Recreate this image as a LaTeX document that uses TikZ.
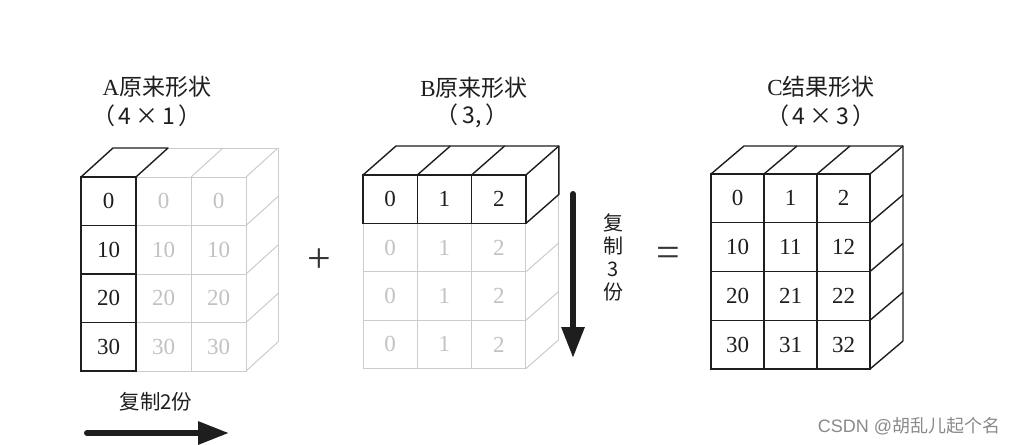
\documentclass[tikz,border=0pt]{standalone}
\usepackage{fontspec}
\setmainfont{Liberation Serif}
\newfontfamily\cjk{Noto Sans CJK SC}
\newfontfamily\wmfont{Liberation Sans}
\usetikzlibrary{arrows.meta}
\definecolor{lline}{HTML}{CCCCCC}
\definecolor{ltext}{HTML}{C2C2C2}
\definecolor{dline}{HTML}{1E1E1E}
\definecolor{wmgray}{HTML}{8A8A8A}
\begin{document}
\begin{tikzpicture}[x=1pt,y=-1pt,
  cellbase/.style={inner sep=0pt, outer sep=0pt, anchor=north west, font=\fontsize{23}{23}\selectfont},
  dcell/.style={cellbase, draw=dline, line width=1.4pt, text=dline},
  lcell/.style={cellbase, draw=lline, line width=1pt, text=ltext},
  dedge/.style={draw=dline, line width=1.4pt, line join=round},
  ledge/.style={draw=lline, line width=1pt, line join=round},
  lab/.style={font=\fontsize{23}{23}\selectfont, text=dline, inner sep=0pt},
  opsign/.style={font=\fontsize{42}{42}\selectfont, text=dline!90, inner sep=0pt},
  bigarrow/.style={draw=dline, line width=6pt, line cap=round, -{Triangle[length=31pt,width=22pt]}},
]
\useasboundingbox[fill=white] (0,0) rectangle (1016,444);

% ---------- A block ----------
\tikzset{aw/.style={minimum width=55pt, minimum height=48.5pt}}
\foreach \r in {0,...,3}{
  \foreach \c in {1,2}{
    \pgfmathtruncatemacro{\v}{10*\r}
    \node[lcell, aw] (A-\r-\c) at ({81+55*\c},{177+48.5*\r}) {\v};
  }
}
\draw[ledge] (A-0-1.north west) ++(32,-29) -- ++(110,0) -- ++(0,194);
\foreach \c in {1,2}{\draw[ledge] (A-0-\c.north east) -- ++(32,-29);}
\foreach \r in {0,...,3}{\draw[ledge] (A-\r-2.south east) -- ++(32,-29);}
\foreach \r in {0,...,3}{
  \pgfmathtruncatemacro{\v}{10*\r}
  \node[dcell, aw] (A-\r-0) at (81,{177+48.5*\r}) {\v};
}
\draw[dedge] (A-0-0.north west) -- ++(32,-29) -- ++(55,0) -- (A-0-0.north east);

% ---------- B block ----------
\tikzset{bw/.style={minimum width=54.3pt, minimum height=48.4pt}}
\foreach \r in {1,...,3}{
  \foreach \c in {0,1,2}{
    \node[lcell, bw] (B-\r-\c) at ({363+54.3*\c},{175+48.4*\r}) {\c};
  }
}
\draw[ledge] (B-1-2.north east) ++(33,-29) -- ++(0,145.2);
\foreach \r in {1,...,3}{\draw[ledge] (B-\r-2.south east) -- ++(33,-29);}
\foreach \c in {0,1,2}{
  \node[dcell, bw] (B-0-\c) at ({363+54.3*\c},175) {\c};
}
\draw[dedge] (B-0-0.north west) -- ++(33,-29) -- ++(162.9,0) -- ++(0,48.4) -- (B-0-2.south east);
\foreach \c in {0,1,2}{\draw[dedge] (B-0-\c.north east) -- ++(33,-29);}

% ---------- C block ----------
\tikzset{cw/.style={minimum width=53pt, minimum height=48.75pt}}
\foreach \r in {0,...,3}{
  \foreach \c in {0,1,2}{
    \pgfmathtruncatemacro{\v}{10*\r+\c}
    \node[dcell, cw] (C-\r-\c) at ({711+53*\c},{174+48.75*\r}) {\v};
  }
}
\draw[dedge] (C-0-0.north west) -- ++(33,-28) -- ++(159,0) -- ++(0,195);
\foreach \c in {0,1,2}{\draw[dedge] (C-0-\c.north east) -- ++(33,-28);}
\foreach \r in {0,...,3}{\draw[dedge] (C-\r-2.south east) -- ++(33,-28);}

% ---------- labels ----------
\node[lab] (labA) at (157,87) {A\cjk{原来形状}};
\node[lab] (shpA) at (147,116) {\cjk{（}\,4\,×\,1\,\cjk{）}};
\node[lab] (labB) at (474,88) {B\cjk{原来形状}};
\node[lab] (shpB) at (472,116) {\cjk{（}\,3,\,\cjk{）}};
\node[lab] (labC) at (821,87) {C\cjk{结果形状}};
\node[lab] (shpC) at (821,116) {\cjk{（}\,4\,×\,3\,\cjk{）}};

\node[opsign] (plus) at (319,261) {+};
\node[opsign] (eq) at (668,257) {=};

% ---------- arrows ----------
\coordinate (v1) at (573,194);
\coordinate (v2) at (573,358);
\draw[bigarrow] (v1) -- (v2);
\node[lab, font=\fontsize{20}{23}\selectfont\cjk, align=center] (vtext) at (613,257) {复\\制\\3\\份};

\coordinate (h1) at (87,433);
\coordinate (h2) at (229,433);
\draw[bigarrow] (h1) -- (h2);
\node[lab, font=\fontsize{20.5}{20.5}\selectfont\cjk] (htext) at (156,402) {复制2份};

% ---------- watermark ----------
\node[inner sep=0pt, text=wmgray, font=\fontsize{18}{18}\selectfont\wmfont] (wm) at (909,426) {CSDN @\cjk{胡乱儿起个名}};
\end{tikzpicture}
\end{document}
